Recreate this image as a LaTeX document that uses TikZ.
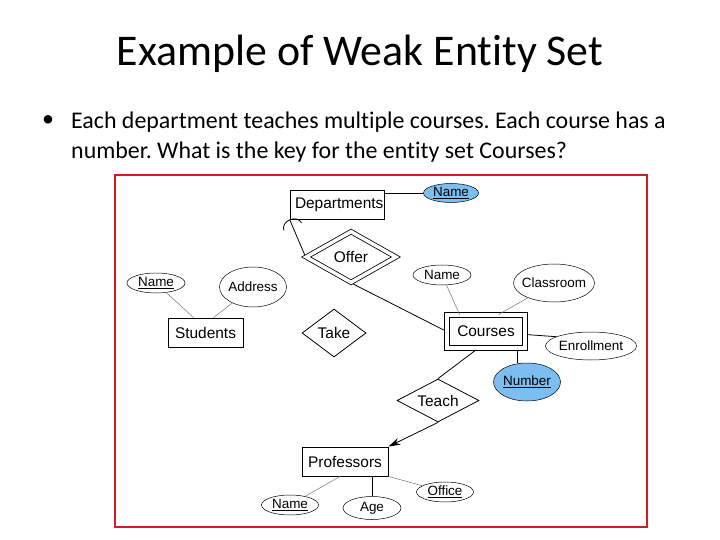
\documentclass[tikz,border=0pt]{standalone}
\usepackage{fontspec}
\setmainfont{Liberation Sans}
\newfontfamily\slidefont[Ligatures=NoCommon]{Carlito}
\usetikzlibrary{shapes.geometric,arrows.meta}
\definecolor{keyblue}{RGB}{125,190,240}
\definecolor{framered}{RGB}{210,30,35}
\frenchspacing
\begin{document}
\begin{tikzpicture}[x=1bp,y=-1bp,every node/.style={font=\fontsize{15.5}{18}\selectfont},entity/.style={draw,line width=0.8bp,minimum height=29bp,inner sep=0pt},rel/.style={draw,diamond,line width=0.8bp,inner sep=0pt,aspect=1.8},attr/.style={draw,ellipse,line width=0.5bp,inner xsep=-6bp,inner ysep=-1bp,font=\fontsize{13.5}{16}\selectfont},keyattr/.style={attr,fill=keyblue},link/.style={line width=0.8bp},attrlink/.style={line width=0.5bp,draw=black!55}]
\useasboundingbox (0,0) rectangle (720,540);
\node[font=\slidefont\fontsize{44}{53}\selectfont] (title) at (360,54) {Example of Weak Entity Set};
\node[font=\slidefont\fontsize{24}{30}\selectfont] (bullet) at (48,121) {\textbullet};
\node[font=\slidefont\fontsize{24}{30}\selectfont,align=left,anchor=north west,inner sep=0pt] (question) at (71,112) {Each department teaches multiple courses. Each course has a\\number. What is the key for the entity set Courses?};
\draw[framered,line width=2bp] (115,175) rectangle (647,527);
\node[entity,minimum width=94bp,text width=84bp,align=left] (dept) at (337,204.5) {Departments};
\node[entity,minimum width=75bp] (students) at (205.5,332.5) {Students};
\node[entity,minimum width=86bp] (prof) at (345,461.5) {Professors};
\node[entity,double,double distance=3.5bp,minimum width=78bp,minimum height=33bp] (courses) at (486,331.5) {Courses};
\node[rel,double,double distance=3.5bp,minimum width=90bp,minimum height=51bp] (offer) at (351,257) {Offer};
\node[rel,minimum width=64bp,minimum height=48bp] (take) at (334,333) {Take};
\node[rel,minimum width=82bp,minimum height=43bp] (teach) at (438,400.5) {Teach};
\node[keyattr,minimum width=55bp,minimum height=19bp] (dname) at (451,193) {\underline{Name}};
\node[attr,minimum width=58bp,minimum height=20bp] (cname) at (442,275) {Name};
\node[attr,minimum width=81bp,minimum height=38bp] (classroom) at (554,283) {Classroom};
\node[attr,minimum width=91bp,minimum height=28bp] (enroll) at (591,346) {Enrollment};
\node[keyattr,minimum width=67bp,minimum height=38bp] (number) at (527,382) {\underline{Number}};
\node[attr,minimum width=58bp,minimum height=20bp] (sname) at (156,283) {\underline{Name}};
\node[attr,minimum width=67bp,minimum height=40bp] (address) at (253,287) {Address};
\node[attr,minimum width=57bp,minimum height=20bp] (pname) at (290,505) {\underline{Name}};
\node[attr,minimum width=58bp,minimum height=23bp] (age) at (372,508) {Age};
\node[attr,minimum width=57bp,minimum height=20bp] (office) at (445,492) {\underline{Office}};
\draw[link] (dept.east |- dname.west) -- (dname.west);
\draw[link,shorten <=2.5bp,-{Arc Barb[length=8bp,width=20bp]}] (offer.west) -- (dept.south west);
\draw[link,shorten <=2.5bp,shorten >=2.5bp] (offer.south) -- (courses.west);
\draw[attrlink] (cname) -- ([xshift=13bp]courses.north west);
\draw[attrlink] (classroom) -- ([xshift=-27bp]courses.north east);
\draw[link,shorten <=2.5bp] ([yshift=-3bp]courses.east) -- (enroll.165);
\draw[link,shorten <=2.5bp] ([xshift=-8bp]courses.south east) -- ([xshift=-8bp]courses.south east |- number.north);
\draw[link,shorten <=2.5bp] ([xshift=-8bp]courses.south) -- (teach.north);
\draw[link,-{Stealth[length=12bp,width=7bp]}] (teach.south) -- (prof.north east);
\draw[attrlink] (sname) -- ([xshift=-12bp]students.north);
\draw[attrlink] (address) -- ([xshift=8bp]students.north);
\draw[attrlink] (pname) -- ([xshift=-5bp]prof.south);
\draw[link] (age.north |- prof.south) -- (age.north);
\draw[attrlink] (office) -- (prof.south east);
\end{tikzpicture}
\end{document}
